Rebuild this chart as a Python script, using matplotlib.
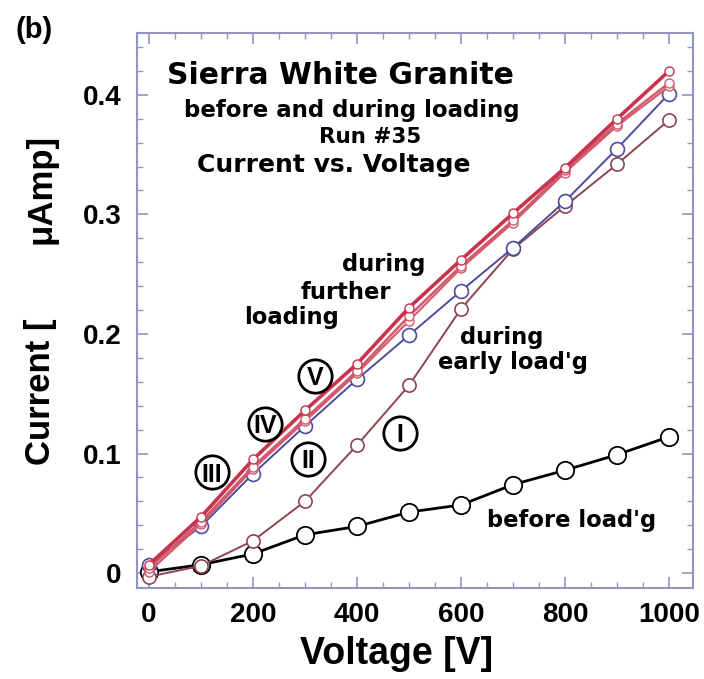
import numpy as np
import matplotlib.pyplot as plt
from matplotlib.ticker import MultipleLocator, FixedLocator

plt.rcParams["font.family"] = ["Liberation Sans", "DejaVu Sans"]
plt.rcParams["font.weight"] = "bold"

voltage = [0, 100, 200, 300, 400, 500, 600, 700, 800, 900, 1000]

before_loading = [0.001, 0.007, 0.016, 0.032, 0.039, 0.051, 0.057, 0.074, 0.086, 0.099, 0.114]
run_I = [-0.003, 0.006, 0.027, 0.060, 0.107, 0.157, 0.221, 0.271, 0.307, 0.342, 0.379]
run_II = [0.007, 0.039, 0.083, 0.123, 0.162, 0.199, 0.236, 0.272, 0.311, 0.355, 0.401]
run_III = [0.001, 0.041, 0.087, 0.127, 0.167, 0.211, 0.255, 0.293, 0.335, 0.374, 0.407]
run_IV = [0.004, 0.043, 0.089, 0.129, 0.169, 0.215, 0.257, 0.295, 0.337, 0.376, 0.410]
run_V = [0.007, 0.047, 0.095, 0.136, 0.175, 0.222, 0.262, 0.301, 0.339, 0.380, 0.420]

numerals = ["III", "IV", "V", "II", "I"]
numeral_x = [121, 223, 319, 306, 483]
numeral_y = [0.0842, 0.125, 0.165, 0.0958, 0.1175]

RED = "#c8344f"
PINK = "#d25a6c"
BLUE = "#4c4c9e"
BROWN = "#8e4452"
FRAME = "#9494c2"
NOTE = ["DejaVu Sans"]

fig = plt.figure(figsize=(7.04, 6.79), dpi=100)
ax = fig.add_axes([0.1946, 0.134, 0.7898, 0.8174])

ax.plot(voltage, before_loading, "-o", color="black", lw=2.0, ms=12.5,
        mfc="white", mec="black", mew=1.3, zorder=3)
ax.plot(voltage, run_I, "-o", color=BROWN, lw=1.4, ms=9.5,
        mfc="white", mec=BROWN, mew=1.2, zorder=4)
ax.plot(voltage, run_II, "-o", color=BLUE, lw=1.4, ms=10,
        mfc="white", mec=BLUE, mew=1.2, zorder=5)
ax.plot(voltage, run_III, "-o", color=PINK, lw=1.5, ms=6.5,
        mfc="white", mec=PINK, mew=1.0, zorder=6)
ax.plot(voltage, run_IV, "-o", color=PINK, lw=1.8, ms=6.5,
        mfc="white", mec=PINK, mew=1.0, zorder=6)
ax.plot(voltage, run_V, "-o", color=RED, lw=2.6, ms=6.5,
        mfc="white", mec=RED, mew=1.0, zorder=7)

ax.set_xlim(-23, 1046)
ax.set_ylim(-0.0125, 0.4517)

ax.xaxis.set_major_locator(MultipleLocator(200))
ax.xaxis.set_minor_locator(MultipleLocator(50))
ax.yaxis.set_major_locator(FixedLocator([0, 0.1, 0.2, 0.3, 0.4]))
ax.yaxis.set_minor_locator(MultipleLocator(0.02))
ax.set_yticklabels(["0", "0.1", "0.2", "0.3", "0.4"])

ax.tick_params(which="both", direction="in", top=True, right=True, color=FRAME, labelsize=20)
ax.tick_params(axis="x", pad=10)
ax.tick_params(axis="y", pad=11)
ax.tick_params(which="major", length=8, width=1.2)
ax.tick_params(which="minor", length=4, width=1.0)
for lab in ax.get_xticklabels() + ax.get_yticklabels():
    lab.set_fontweight("bold")
for sp in ax.spines.values():
    sp.set_color(FRAME)
    sp.set_linewidth(1.5)

# axis labels placed in figure pixels
fig.text(397 / 704, 1 - 664 / 679, "Voltage [V]", fontsize=27, fontweight="bold",
         ha="center", va="baseline")
fig.text(50 / 704, 1 - 392 / 679, "Current [", fontsize=25, fontweight="bold",
         rotation=90, rotation_mode="anchor", ha="center", va="baseline")
fig.text(50 / 704, 1 - 189 / 679, "\u03bcAmp]", fontsize=25, fontweight="bold",
         rotation=90, rotation_mode="anchor", ha="center", va="baseline")
fig.text(34 / 704, 1 - 30 / 679, "(b)", fontsize=21, fontweight="bold",
         ha="center", va="center")

ax.text(368, 0.409, "Sierra White Granite", fontsize=21.5, fontweight="bold",
        family=NOTE, ha="center", va="baseline")
ax.text(389, 0.3817, "before and during loading", fontsize=16.5, fontweight="bold",
        family=NOTE, ha="center", va="baseline")
ax.text(425, 0.360, "Run #35", fontsize=15.5, fontweight="bold",
        family=NOTE, ha="center", va="baseline")
ax.text(355, 0.3358, "Current vs. Voltage", fontsize=18, fontweight="bold",
        family=NOTE, ha="center", va="baseline")

notes = [("during", 451, 0.2525), ("further", 379, 0.229), ("loading", 274, 0.2083),
         ("during", 678, 0.1917), ("early load'g", 699, 0.1708),
         ("before load'g", 812, 0.0383)]
for s, x, y in notes:
    ax.text(x, y, s, fontsize=16.3, fontweight="bold", family=NOTE,
            ha="center", va="baseline")

ax.plot(numeral_x, numeral_y, "o", ls="none", ms=24, mfc="white", mec="black",
        mew=2.0, zorder=8)
for s, x, y in zip(numerals, numeral_x, numeral_y):
    ax.text(x, y, s, fontsize=18, fontweight="bold", ha="center", va="center_baseline",
            zorder=9)

fig.savefig("out.png", dpi=100)
